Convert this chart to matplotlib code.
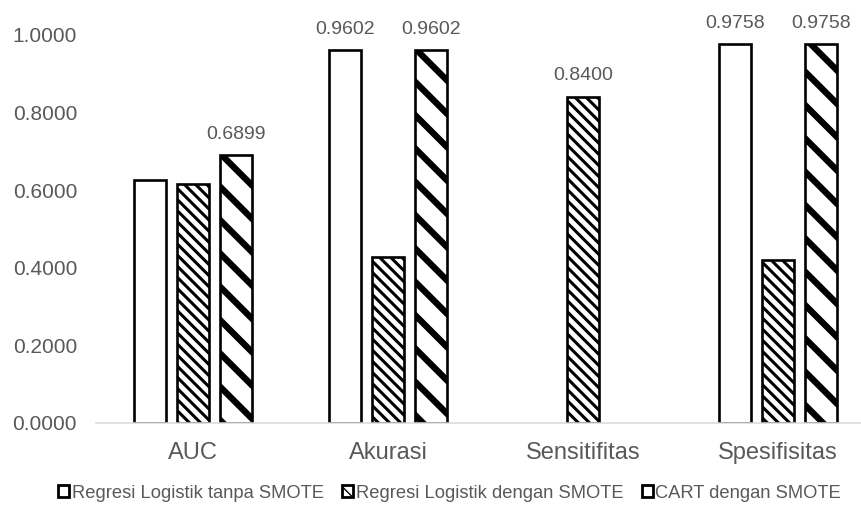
import numpy as np
import matplotlib
matplotlib.use("Agg")
from matplotlib import pyplot as plt

plt.rcParams['font.family'] = ['Liberation Sans', 'DejaVu Sans']

categories = ['AUC', 'Akurasi', 'Sensitifitas', 'Spesifisitas']
series_names = ['Regresi Logistik tanpa SMOTE',
                'Regresi Logistik dengan SMOTE',
                'CART dengan SMOTE']
tanpa_smote = [0.626, 0.9602, 0.0, 0.9758]
logit_smote = [0.617, 0.428, 0.8400, 0.421]
cart_smote = [0.6899, 0.9602, 0.0, 0.9758]
# only some bars carry a value label
labels_tanpa = [None, '0.9602', None, '0.9758']
labels_logit = [None, None, '0.8400', None]
labels_cart = ['0.6899', '0.9602', None, '0.9758']
y_ticks = [0.0, 0.2, 0.4, 0.6, 0.8, 1.0]

text_grey = '#595959'
series = [
    (tanpa_smote, labels_tanpa, '', 1.0),
    (logit_smote, labels_logit, '\\\\\\', 2.2),
    (cart_smote, labels_cart, '\\', 4.6),
]

fig = plt.figure(figsize=(8.61, 5.09), dpi=100)
ax = fig.add_axes([95.5 / 861, 86 / 509, 780 / 861, 388 / 509])

x = np.arange(len(categories))
step = 0.2205
width = 0.165

for i, (vals, labs, hatch, hlw) in enumerate(series):
    with plt.rc_context({'hatch.linewidth': hlw, 'hatch.color': 'black'}):
        bars = ax.bar(x + (i - 1) * step, vals, width, facecolor='white',
                      edgecolor='black', linewidth=1.9, hatch=hatch,
                      label=series_names[i], zorder=1)
    for b in bars:
        if hasattr(b, 'set_hatch_linewidth'):
            b.set_hatch_linewidth(hlw)
        if b.get_height() == 0:
            b.set_linewidth(0)
    for b, v, lab in zip(bars, vals, labs):
        if lab is None:
            continue
        ax.annotate(lab, (b.get_x() + b.get_width() / 2, v),
                    xytext=(0, 12), textcoords='offset points',
                    ha='center', va='baseline', fontsize=14, color=text_grey)

ax.set_xlim(-0.5, len(categories) - 0.5)
ax.set_ylim(0, 1.0)
ax.set_xticks(x)
ax.set_xticklabels(categories)
ax.set_yticks(y_ticks)
ax.set_yticklabels([f'{t:.4f}' for t in y_ticks])
ax.tick_params(axis='x', length=0, pad=13.5, labelsize=17, labelcolor=text_grey)
ax.tick_params(axis='y', length=0, pad=13.3, labelsize=15, labelcolor=text_grey)

for side in ['top', 'right', 'left']:
    ax.spines[side].set_visible(False)
ax.spines['bottom'].set_color('#d9d9d9')
ax.spines['bottom'].set_linewidth(1.1)
ax.spines['bottom'].set_zorder(3)

leg = fig.legend(loc='center', bbox_to_anchor=(449.5 / 861, 1 - 493 / 509),
                 ncol=3, frameon=False, fontsize=13.2, handlelength=0.6,
                 handleheight=0.6, handletextpad=0.15, columnspacing=1.0,
                 borderpad=0, borderaxespad=0)
for t in leg.get_texts():
    t.set_color(text_grey)
for h in leg.legend_handles:
    h.set_linewidth(2.0)

fig.savefig('out.png', dpi=100)
